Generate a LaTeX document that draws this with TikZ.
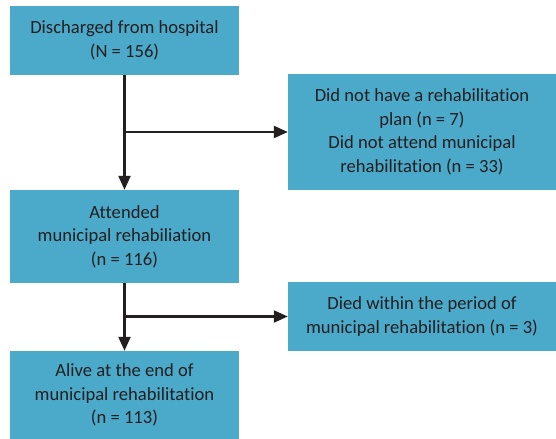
\documentclass[tikz,border=0pt]{standalone}
\usepackage{fontspec}
\setmainfont{Carlito}[Ligatures={NoCommon,NoRare,NoContextual}]
\usetikzlibrary{positioning, arrows.meta}

\definecolor{boxblue}{HTML}{4BA9C9}
\definecolor{inkgray}{HTML}{231F20}

\begin{document}
\begin{tikzpicture}[x=1bp,y=-1bp]
	\tikzstyle{every node}=[font=\fontsize{18.6bp}{23.5bp}\selectfont, text=inkgray]
	\tikzstyle{flowbox}=[fill=boxblue, inner sep=0pt, align=center]
	\tikzstyle{flow}=[draw=inkgray, line width=2.2bp, -{Triangle[length=14bp,width=12bp]}]

	\useasboundingbox (0,0) rectangle (556,439);

	\node[flowbox, minimum width=229bp, minimum height=69bp] (discharged) at (124.5,40.5) {Discharged from hospital\\(N = 156)};
	\node[flowbox, minimum width=268bp, minimum height=116bp] (excluded) at (422,132) {Did not have a rehabilitation\\plan (n = 7)\\Did not attend municipal\\rehabilitation (n = 33)};
	\node[flowbox, minimum width=229bp, minimum height=93bp] (attended) at (124.5,236.5) {Attended\\municipal rehabiliation\\(n = 116)};
	\node[flowbox, minimum width=268bp, minimum height=69bp] (died) at (422,316.5) {Died within the period of\\municipal rehabilitation (n = 3)};
	\node[flowbox, minimum width=229bp, minimum height=88bp] (alive) at (124.5,395) {Alive at the end of\\municipal rehabilitation\\(n = 113)};

	\coordinate (split1) at (discharged.south |- excluded.west);
	\coordinate (split2) at (attended.south |- died.west);

	\draw[flow] (discharged.south) -- (attended.north);
	\draw[flow] (split1) -- (excluded.west);
	\draw[flow] (attended.south) -- (alive.north);
	\draw[flow] (split2) -- (died.west);
\end{tikzpicture}
\end{document}
